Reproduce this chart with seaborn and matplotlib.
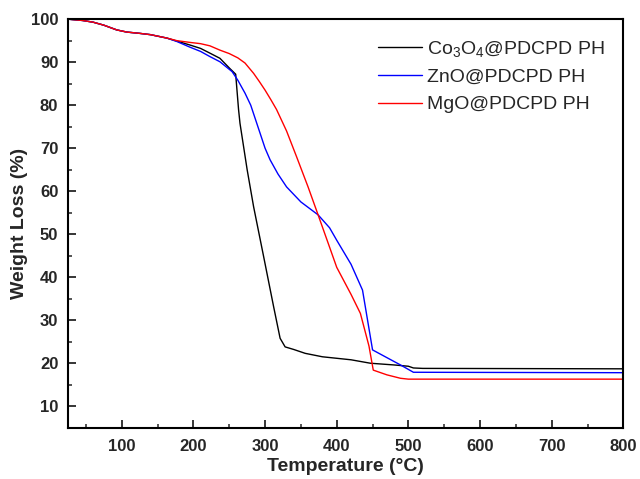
import numpy as np
import pandas as pd
import matplotlib
matplotlib.use("Agg")
import matplotlib.pyplot as plt
from matplotlib.ticker import MultipleLocator
import seaborn as sns

# ---- data ----
common_T = [25, 45, 60, 75, 93, 107, 125, 140, 163]
common_W = [100.0, 99.7, 99.3, 98.6, 97.5, 97.0, 96.7, 96.4, 95.6]

co_T = common_T + [177, 195, 210, 223, 237, 251, 259, 263, 265, 275, 284, 298, 312, 321,
                   328, 340, 356, 380, 420, 447, 480, 500, 507, 520, 800]
co_W = common_W + [94.9, 94.0, 93.2, 92.1, 90.9, 88.5, 87.2, 79.0, 75.8, 65.0, 56.4, 44.8, 33.1, 25.8,
                   23.8, 23.2, 22.3, 21.5, 20.8, 20.0, 19.6, 19.3, 18.9, 18.8, 18.7]

zn_T = common_T + [177, 195, 210, 223, 237, 254, 262, 272, 280, 287, 293, 300, 307, 318, 330, 350, 374,
                   390, 400, 420, 436, 450, 470, 489, 507, 800]
zn_W = common_W + [94.8, 93.5, 92.5, 91.3, 90.1, 87.8, 85.8, 82.8, 80.0, 76.5, 73.5, 70.0, 67.3, 64.0, 61.0, 57.5, 54.5,
                   51.5, 48.6, 43.0, 37.0, 23.1, 21.3, 19.6, 17.9, 17.8]

mg_T = common_T + [177, 195, 210, 223, 237, 250, 262, 272, 284, 292, 300, 308, 316, 330, 344, 360, 374,
                   390, 400, 420, 433, 445, 451, 470, 489, 500, 800]
mg_W = common_W + [95.0, 94.6, 94.3, 93.8, 92.8, 92.0, 91.0, 89.8, 87.4, 85.5, 83.5, 81.3, 79.0, 74.0, 68.0, 61.0, 54.5,
                   47.0, 42.3, 36.0, 31.6, 24.0, 18.4, 17.3, 16.5, 16.3, 16.3]

labels = [r"Co$_3$O$_4$@PDCPD PH", "ZnO@PDCPD PH", "MgO@PDCPD PH"]
colors = ["#000000", "#0000FF", "#FF0000"]

df = pd.concat([
    pd.DataFrame({"T": co_T, "W": co_W, "sample": labels[0]}),
    pd.DataFrame({"T": zn_T, "W": zn_W, "sample": labels[1]}),
    pd.DataFrame({"T": mg_T, "W": mg_W, "sample": labels[2]}),
], ignore_index=True)

sns.set_style("ticks")
plt.rcParams["font.family"] = ["Liberation Sans", "DejaVu Sans"]
plt.rcParams["mathtext.fontset"] = "custom"
plt.rcParams["mathtext.rm"] = "Liberation Sans"
plt.rcParams["mathtext.it"] = "Liberation Sans:italic"

fig = plt.figure(figsize=(6.4, 4.79), dpi=100)
ax = fig.add_axes([0.10625, 0.107, 0.974 - 0.10625, 0.96 - 0.107])

sns.lineplot(data=df, x="T", y="W", hue="sample", hue_order=labels,
             palette=dict(zip(labels, colors)), estimator=None, sort=False,
             linewidth=1.0, ax=ax)

ax.set_xlim(25, 800)
ax.set_ylim(5, 100)
ax.xaxis.set_major_locator(MultipleLocator(100))
ax.xaxis.set_minor_locator(MultipleLocator(50))
ax.yaxis.set_major_locator(MultipleLocator(10))
ax.yaxis.set_minor_locator(MultipleLocator(5))
ax.set_xticks([100, 200, 300, 400, 500, 600, 700, 800])
ax.set_yticks([10, 20, 30, 40, 50, 60, 70, 80, 90, 100])

ax.tick_params(which="major", direction="in", length=6, width=1.3,
               labelsize=12, top=False, right=False)
ax.tick_params(which="minor", direction="in", length=3, width=1.1,
               top=False, right=False)
ax.tick_params(axis="x", which="major", pad=8)
ax.tick_params(axis="y", which="major", pad=7)
for lab in ax.get_xticklabels() + ax.get_yticklabels():
    lab.set_fontweight("bold")

for sp in ax.spines.values():
    sp.set_visible(True)
    sp.set_linewidth(1.5)
    sp.set_color("black")

ax.set_xlabel("Temperature (°C)", fontsize=14, fontweight="bold", labelpad=3)
ax.set_ylabel("Weight Loss (%)", fontsize=14, fontweight="bold", labelpad=2)

leg = ax.legend(loc="upper left", bbox_to_anchor=(0.558, 0.952), frameon=False,
                fontsize=14, handlelength=2.25, handletextpad=0.3,
                borderpad=0, borderaxespad=0, labelspacing=0.5)
for line in leg.get_lines():
    line.set_linewidth(1.0)

fig.savefig("out.png", dpi=100)
